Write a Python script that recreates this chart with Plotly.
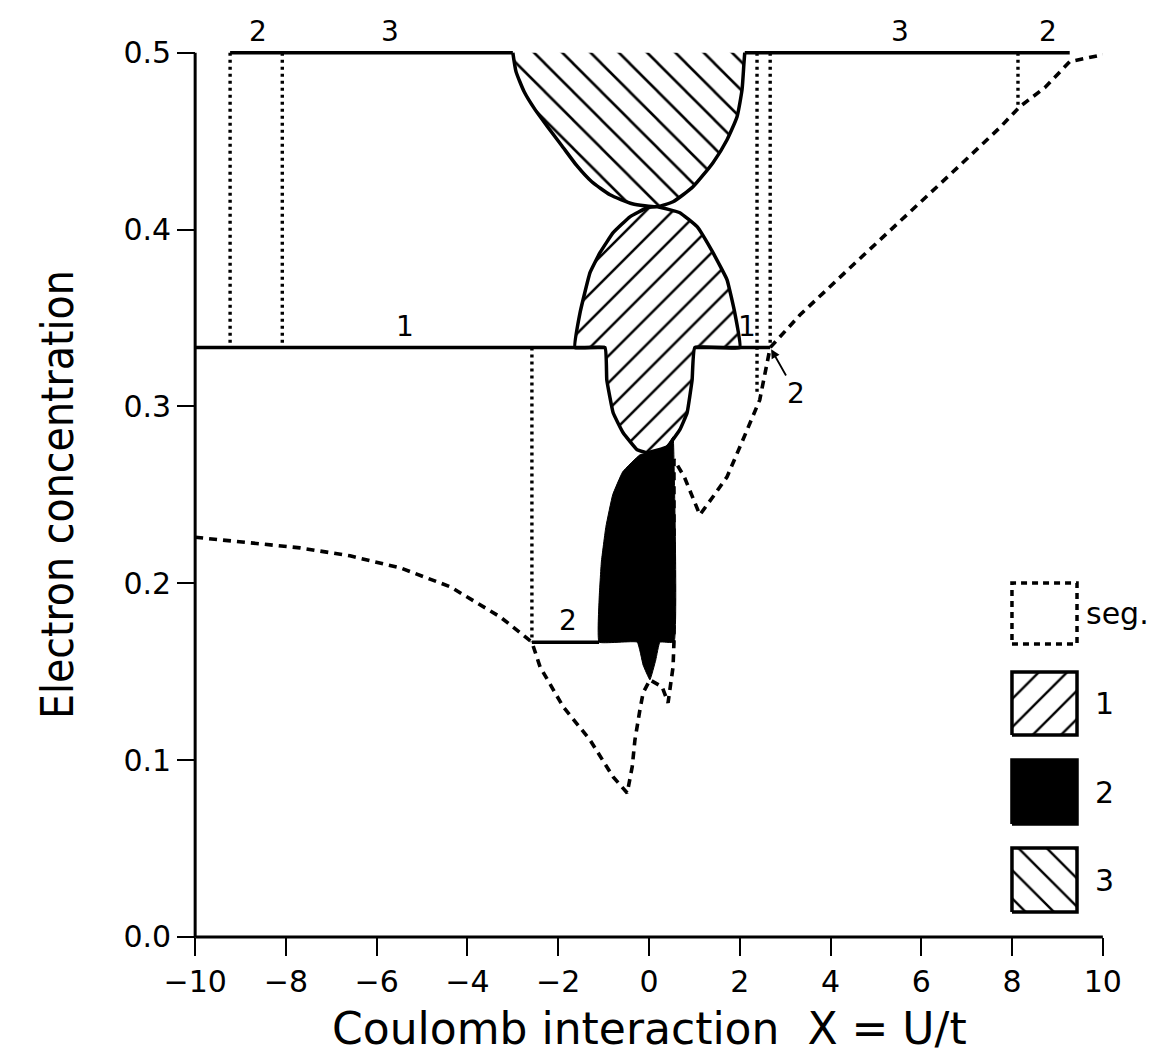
import plotly.graph_objects as go

# ---------------- axes / ticks ----------------
x_range = [-10.4, 10.4]
y_range = [-0.0102, 0.51]
x_tick_vals = [-10, -8, -6, -4, -2, 0, 2, 4, 6, 8, 10]
x_tick_text = ["\u221210", "\u22128", "\u22126", "\u22124", "\u22122", "0", "2", "4", "6", "8", "10"]
y_tick_vals = [0.0, 0.1, 0.2, 0.3, 0.4, 0.5]
y_tick_text = ["0.0", "0.1", "0.2", "0.3", "0.4", "0.5"]

# ---------------- segregation boundary (dashed) ----------------
seg_u = [-10.0, -8.79, -7.69, -6.59, -5.48, -4.38, -3.28, -2.58, -2.40, -1.89, -1.30, -0.79,
         -0.48, -0.37, -0.31, -0.20, -0.13, 0.02, 0.29, 0.42, 0.53, 0.55, 0.55, 0.78, 1.12,
         1.41, 1.72, 2.07, 2.44, 2.67, 3.33, 4.43, 5.53, 6.63, 7.73, 8.17, 8.72, 9.27, 10.0]
seg_v = [0.226, 0.223, 0.220, 0.2155, 0.2087, 0.198, 0.181, 0.1667, 0.1527, 0.1301, 0.1114, 0.0905,
         0.0814, 0.0962, 0.1114, 0.1284, 0.138, 0.1454, 0.1414, 0.1324, 0.1527, 0.1667, 0.270, 0.260, 0.2387,
         0.2489, 0.2602, 0.2811, 0.3037, 0.3333, 0.3518, 0.3784, 0.4044, 0.431, 0.4576, 0.4695, 0.4802, 0.4949, 0.4989]

# ---------------- phase 1 (hatched /) ----------------
phase1_u = [-1.63, -1.52, -1.30, -1.08, -0.79, -0.42, -0.04, 0.18, 0.68, 1.06, 1.41, 1.72, 1.89, 2.00,
            1.01, 0.95, 0.84, 0.68, 0.40, -0.04, -0.26, -0.57, -0.79, -0.93, -0.97, -1.63]
phase1_v = [0.3333, 0.3529, 0.3756, 0.3869, 0.3982, 0.4072, 0.4123, 0.4129, 0.4095, 0.4016, 0.3869, 0.3716, 0.3529, 0.3333,
            0.3333, 0.3150, 0.2964, 0.2868, 0.2771, 0.2738, 0.2755, 0.2851, 0.2964, 0.3150, 0.3333, 0.3333]

# ---------------- phase 2 (black) ----------------
phase2_u = [-1.10, -1.10, -1.05, -0.95, -0.80, -0.58, -0.20, 0.13, 0.42, 0.53, 0.55, 0.55,
            0.24, 0.15, 0.02, -0.13, -0.26, -1.10]
phase2_v = [0.1667, 0.1906, 0.2120, 0.2320, 0.2500, 0.2630, 0.2726, 0.2743, 0.2783, 0.2828, 0.2698, 0.1667,
            0.1667, 0.1567, 0.1454, 0.1538, 0.1667, 0.1667]

# ---------------- phase 3 (hatched \) ----------------
phase3_u = [-3.00, -2.93, -2.75, -2.51, -2.22, -1.92, -1.59, -1.26, -0.86, -0.37, 0.18,
            0.53, 0.97, 1.41, 1.72, 1.94, 2.05, 2.09, 2.11]
phase3_v = [0.5, 0.4893, 0.4779, 0.4678, 0.4576, 0.4474, 0.4361, 0.4270, 0.4197, 0.4146, 0.4129,
            0.4157, 0.4242, 0.4378, 0.4508, 0.4638, 0.4791, 0.4932, 0.5]

# ---------------- solid horizontal boundaries ----------------
hline_u0 = [-9.23, 2.11, -10.0, 1.01, -2.58]
hline_u1 = [-3.00, 9.27, -0.97, 2.67, -1.10]
hline_v = [0.5, 0.5, 0.3333, 0.3333, 0.1667]

# ---------------- dotted vertical boundaries ----------------
vdot_u = [-9.23, -8.08, -2.58, 2.38, 2.67, 8.13]
vdot_top = [0.5, 0.5, 0.3333, 0.5, 0.5, 0.5]
vdot_bot = [0.3333, 0.3333, 0.1667, 0.3077, 0.3333, 0.4695]

# ---------------- region labels ----------------
lab_text = ["2", "3", "3", "2", "1", "1", "2"]
lab_u = [-8.61, -5.70, 5.53, 8.79, -5.37, 2.16, -1.78]
lab_v = [0.5, 0.5, 0.5, 0.5, 0.3333, 0.3333, 0.1667]

# ---------------- legend ----------------
legend_names = ["seg.", "1", "2", "3"]
legend_box_x = [0.8845, 0.9534]
legend_box_y = [(0.3380, 0.4043), (0.2391, 0.3076), (0.1424, 0.2120), (0.0467, 0.1163)]

FONT = "DejaVu Sans, Liberation Sans, sans-serif"
BLK = "black"
LW = 3.5

fig = go.Figure()

# phase 3 fill and outline
fig.add_trace(go.Scatter(x=phase3_u, y=phase3_v, mode="lines", fill="toself",
                         line=dict(width=0, color=BLK, shape="spline", smoothing=0.5), fillcolor="white",
                         fillpattern=dict(shape="\\", size=20, solidity=0.13, fgcolor=BLK,
                                          bgcolor="white", fillmode="replace"),
                         hoverinfo="skip", showlegend=False))
fig.add_trace(go.Scatter(x=phase3_u, y=phase3_v, mode="lines",
                         line=dict(width=LW, color=BLK, shape="spline", smoothing=0.5),
                         hoverinfo="skip", showlegend=False))
# phase 1
fig.add_trace(go.Scatter(x=phase1_u, y=phase1_v, mode="lines", fill="toself",
                         line=dict(width=LW, color=BLK, shape="spline", smoothing=0.3), fillcolor="white",
                         fillpattern=dict(shape="/", size=19, solidity=0.13, fgcolor=BLK,
                                          bgcolor="white", fillmode="replace"),
                         hoverinfo="skip", showlegend=False))
# phase 2
fig.add_trace(go.Scatter(x=phase2_u, y=phase2_v, mode="lines", fill="toself",
                         line=dict(width=1, color=BLK, shape="spline", smoothing=0.3), fillcolor=BLK,
                         hoverinfo="skip", showlegend=False))

# solid horizontal boundaries
for u0, u1, v in zip(hline_u0, hline_u1, hline_v):
    fig.add_trace(go.Scatter(x=[u0, u1], y=[v, v], mode="lines", line=dict(width=LW, color=BLK),
                             hoverinfo="skip", showlegend=False))

# dotted verticals
for u, t, b in zip(vdot_u, vdot_top, vdot_bot):
    fig.add_trace(go.Scatter(x=[u, u], y=[t, b], mode="lines",
                             line=dict(width=3.4, color=BLK, dash="3px,4px"),
                             hoverinfo="skip", showlegend=False))

# segregation dashed line
fig.add_trace(go.Scatter(x=seg_u, y=seg_v, mode="lines",
                         line=dict(width=3.6, color=BLK, dash="8px,6px"),
                         hoverinfo="skip", showlegend=False))

# ---------------- legend boxes (overlay axes in plot fractions) ----------------
x0, x1 = legend_box_x
legend_styles = [
    dict(dash="6px,5px", fill=None, pattern=None),
    dict(dash="solid", fill="white", pattern="/"),
    dict(dash="solid", fill=BLK, pattern=None),
    dict(dash="solid", fill="white", pattern="\\"),
]
for (y0, y1), st in zip(legend_box_y, legend_styles):
    kw = {}
    if st["fill"] is not None:
        kw["fill"] = "toself"
        kw["fillcolor"] = st["fill"]
    if st["pattern"] is not None:
        kw["fillpattern"] = dict(shape=st["pattern"], size=20, solidity=0.12, fgcolor=BLK,
                                 bgcolor="white", fillmode="replace")
    fig.add_trace(go.Scatter(x=[x0, x1, x1, x0, x0], y=[y0, y0, y1, y1, y0], mode="lines",
                             line=dict(width=3.5, color=BLK, dash=st["dash"]),
                             xaxis="x2", yaxis="y2", hoverinfo="skip", showlegend=False, **kw))

# ---------------- axis lines ----------------
fig.add_shape(type="line", xref="x", yref="y", x0=-10, x1=10, y0=0, y1=0,
              line=dict(color=BLK, width=3))
fig.add_shape(type="line", xref="x", yref="y", x0=-10, x1=-10, y0=0, y1=0.5,
              line=dict(color=BLK, width=3))

# ---------------- annotations ----------------
annotations = []
for t, u, v in zip(lab_text, lab_u, lab_v):
    annotations.append(dict(x=u, y=v, xref="x", yref="y", text=t, showarrow=False,
                            xanchor="center", yanchor="bottom", yshift=3,
                            font=dict(family=FONT, size=28, color=BLK)))
annotations.append(dict(x=2.67, y=0.3333, xref="x", yref="y", text="2", showarrow=True,
                        ax=26, ay=46, arrowhead=2, arrowsize=1, arrowwidth=1.8, arrowcolor=BLK,
                        standoff=2, startstandoff=0,
                        font=dict(family=FONT, size=28, color=BLK)))
# legend labels
annotations.append(dict(x=0.961, y=0.3717, xref="paper", yref="paper", text="seg.", showarrow=False,
                        xanchor="left", yanchor="middle", font=dict(family=FONT, size=30, color=BLK)))
for name, fy in zip(legend_names[1:], [0.2739, 0.1761, 0.0815]):
    annotations.append(dict(x=0.983, y=fy, xref="paper", yref="paper", text=name, showarrow=False,
                            xanchor="center", yanchor="middle",
                            font=dict(family=FONT, size=30, color=BLK)))
# axis titles
annotations.append(dict(x=0.501, y=-0.0795, xref="paper", yref="paper",
                        text="Coulomb interaction  X = U/t", showarrow=False,
                        xanchor="center", yanchor="middle",
                        font=dict(family=FONT, size=44, color=BLK)))
annotations.append(dict(x=-0.127, y=0.5, xref="paper", yref="paper",
                        text="Electron concentration", showarrow=False, textangle=-90,
                        xanchor="center", yanchor="middle",
                        font=dict(family="Liberation Sans Narrow, DejaVu Sans Condensed, sans-serif",
                                  size=44, color=BLK)))

y_pos_of_x_axis = (0 - y_range[0]) / (y_range[1] - y_range[0])
x_pos_of_y_axis = (-10 - x_range[0]) / (x_range[1] - x_range[0])

fig.update_layout(
    width=1163, height=1062,
    margin=dict(l=169, r=50, t=27, b=115),
    paper_bgcolor="white", plot_bgcolor="white",
    showlegend=False,
    xaxis=dict(range=x_range, domain=[0, 1], anchor="free", position=y_pos_of_x_axis,
               showgrid=False, zeroline=False, showline=False,
               tickmode="array", tickvals=x_tick_vals, ticktext=x_tick_text,
               ticks="outside", ticklen=18, tickwidth=2, tickcolor=BLK,
               tickfont=dict(family=FONT, size=30, color=BLK)),
    yaxis=dict(range=y_range, domain=[0, 1], anchor="free", position=x_pos_of_y_axis,
               showgrid=False, zeroline=False, showline=False,
               tickmode="array", tickvals=y_tick_vals, ticktext=y_tick_text,
               ticks="outside", ticklen=18, tickwidth=2, tickcolor=BLK,
               tickfont=dict(family=FONT, size=30, color=BLK)),
    xaxis2=dict(range=[0, 1], overlaying="x", anchor="y2", visible=False, domain=[0, 1]),
    yaxis2=dict(range=[0, 1], overlaying="y", anchor="x2", visible=False, domain=[0, 1]),
    annotations=annotations,
)

fig.write_html("out.html")
